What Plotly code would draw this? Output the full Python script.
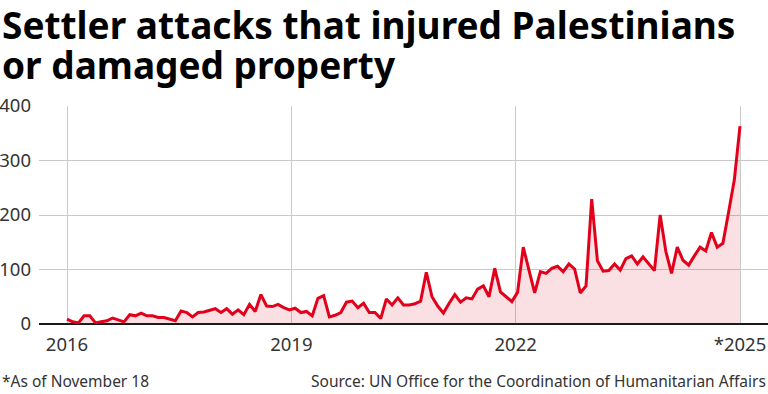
import plotly.graph_objects as go

# Monthly count of settler attacks that injured Palestinians or damaged property
attacks = [
    9, 4, 2, 15, 15, 2, 4, 6, 11, 7, 4, 17, 15, 20, 15, 15, 12, 12, 9, 6,
    24, 21, 13, 21, 22, 25, 28, 21, 28, 18, 26, 17, 36, 23, 54, 33, 32, 36, 30,
    26, 29, 21, 23, 15, 47, 52, 13, 16, 21, 40, 42, 30, 38, 21, 21, 10, 46, 35,
    48, 35, 35, 37, 42, 95, 50, 33, 20, 38, 54, 40, 48, 46, 64, 70, 50, 102, 59,
    50, 41, 58,
    141, 99, 57, 96, 93, 102, 106, 96, 110, 101, 57, 70, 229, 116, 97, 98, 110, 99,
    120, 125, 110, 123, 110, 98, 200, 133, 93, 141, 117, 108, 125, 141, 134, 168,
    141, 148, 205, 264, 363,
]
x_tick_labels = ["2016", "2019", "2022", "*2025"]
y_tick_values = [0, 100, 200, 300, 400]

months = list(range(len(attacks)))
last = len(attacks) - 1
x_tick_positions = [0, last / 3, 2 * last / 3, last]

W, H = 768, 394
L, R, T, B = 39, 0, 106, 70
pw, ph = W - L - R, H - T - B
step = (740 - 67) / last
pad = (67 - L) / step

def px(xp):
    return (xp - L) / pw

def py(yp):
    return (H - B - yp) / ph

FONT = "Noto Sans"
RED = "#e2001a"

fig = go.Figure()
fig.add_trace(go.Scatter(
    x=months, y=attacks, mode="lines",
    line=dict(color=RED, width=3, shape="linear"),
    fill="tozeroy", fillcolor="rgba(226,0,26,0.12)",
    hoverinfo="skip", showlegend=False,
))

fig.update_layout(
    width=W, height=H,
    margin=dict(l=L, r=R, t=T, b=B, pad=0),
    paper_bgcolor="white", plot_bgcolor="white",
    font=dict(family=FONT, color="#333333"),
    xaxis=dict(
        range=[-pad, last + pad],
        tickmode="array", tickvals=x_tick_positions, ticktext=x_tick_labels,
        showgrid=True, gridcolor="#c9c9c9", gridwidth=1,
        zeroline=False, showline=False, ticks="",
        ticklabelstandoff=7,
        tickfont=dict(size=18.5, color="#333333", family=FONT),
        fixedrange=True,
    ),
    yaxis=dict(
        range=[0, 400],
        tickmode="array", tickvals=y_tick_values,
        showgrid=True, gridcolor="#c9c9c9", gridwidth=1,
        zeroline=True, zerolinecolor="#1a1a1a", zerolinewidth=2,
        showline=False, ticks="",
        ticklabelstandoff=7,
        tickfont=dict(size=18.5, color="#333333", family=FONT),
        fixedrange=True,
    ),
    annotations=[
        dict(text="Settler attacks that injured Palestinians", xref="paper", yref="paper",
             x=px(0), y=py(24), xanchor="left", yanchor="middle", showarrow=False,
             font=dict(size=37, family=FONT, color="#000000", weight="bold")),
        dict(text="or damaged property", xref="paper", yref="paper",
             x=px(0), y=py(65), xanchor="left", yanchor="middle", showarrow=False,
             font=dict(size=37, family=FONT, color="#000000", weight="bold")),
        dict(text="*As of November 18", xref="paper", yref="paper",
             x=px(0), y=py(381), xanchor="left", yanchor="middle", showarrow=False,
             font=dict(size=15.5, family=FONT, color="#333333")),
        dict(text="Source: UN Office for the Coordination of Humanitarian Affairs",
             xref="paper", yref="paper",
             x=px(768), y=py(381), xanchor="right", yanchor="middle", showarrow=False,
             font=dict(size=15.5, family=FONT, color="#333333")),
    ],
)

fig.write_html(
    "out.html",
    config={"displayModeBar": False},
    post_script="document.body.style.margin='0';document.body.style.padding='0';"
                "document.body.style.overflow='hidden';",
)
